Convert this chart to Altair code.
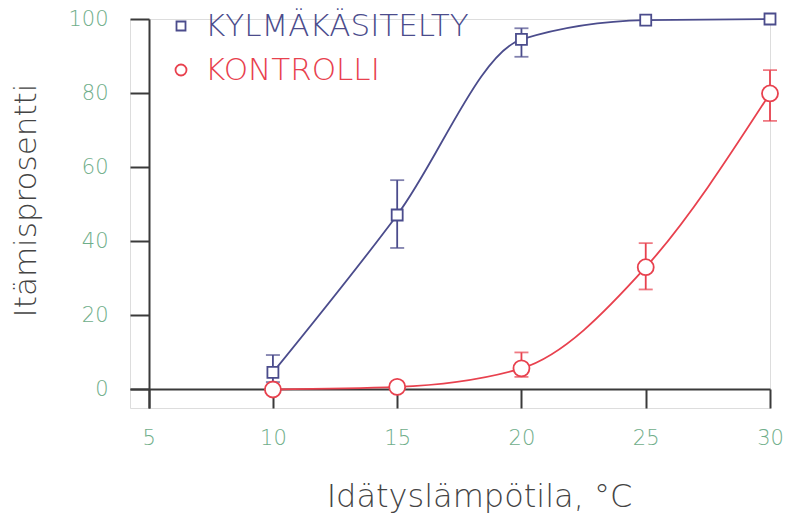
import altair as alt
import pandas as pd

temps = [10, 15, 20, 25, 30]
series_names = ["KYLMÄKÄSITELTY", "KONTROLLI"]
cold_mean = [4.6, 47.1, 94.5, 99.7, 100.0]
cold_low = [2.0, 38.2, 89.8, None, None]
cold_high = [9.3, 56.5, 97.5, None, None]
ctrl_mean = [0.0, 0.7, 5.7, 33.0, 79.9]
ctrl_low = [None, None, 3.4, 27.0, 72.5]
ctrl_high = [None, None, 10.0, 39.5, 86.2]

x_ticks = [5, 10, 15, 20, 25, 30]
y_ticks = [0, 20, 40, 60, 80, 100]

BLUE = "#4b4c8c"
RED = "#e8414e"
GREEN = "#6fae8a"
AXIS = "#3a3a3a"
FONT = "DejaVu Sans"

rows = []
for name, m, lo, hi in [(series_names[0], cold_mean, cold_low, cold_high),
                        (series_names[1], ctrl_mean, ctrl_low, ctrl_high)]:
    for t, a, b, c in zip(temps, m, lo, hi):
        rows.append({"series": name, "t": t, "v": a, "lo": b, "hi": c})
df = pd.DataFrame(rows)
err = df.dropna(subset=["lo"])

color = alt.Color("series:N", scale=alt.Scale(domain=series_names, range=[BLUE, RED]), legend=None)
shape = alt.Shape("series:N", scale=alt.Scale(domain=series_names, range=["square", "circle"]), legend=None)
size = alt.Size("series:N", scale=alt.Scale(domain=series_names, range=[121, 256]), legend=None)

xs = alt.X("t:Q", scale=alt.Scale(domain=[4.25, 30], nice=False, zero=False),
           axis=alt.Axis(values=x_ticks, offset=-19, tickSize=19, tickWidth=2, domainWidth=2,
                         domainColor=AXIS, tickColor=AXIS, grid=False, labelColor=GREEN,
                         labelFontSize=21, labelFont=FONT, labelFontWeight=200, labelPadding=19,
                         labelFlush=False, labelOverlap=False,
                         title="Idätyslämpötila,  °C", titleFont=FONT, titleFontSize=32,
                         titleFontWeight=200, titleColor="#444444",
                         titleX=349, titleY=117, titleAlign="center", titleBaseline="alphabetic"))
ys = alt.Y("v:Q", scale=alt.Scale(domain=[-5, 100], nice=False, zero=False),
           axis=alt.Axis(values=y_ticks, offset=-19, tickSize=19, tickWidth=2, domainWidth=2,
                         domainColor=AXIS, tickColor=AXIS, grid=False, labelColor=GREEN,
                         labelFontSize=21, labelFont=FONT, labelFontWeight=200, labelPadding=22,
                         labelFlush=False, labelOverlap=False,
                         title="Itämisprosentti", titleFont=FONT, titleFontSize=31,
                         titleFontWeight=200, titleColor="#444444",
                         titleX=-114, titleY=181, titleAlign="center", titleBaseline="alphabetic",
                         titleAngle=270))

base = alt.Chart(df)
lines = base.mark_line(interpolate="monotone", strokeWidth=1.8).encode(x=xs, y=ys, color=color, detail="series:N")

ebase = alt.Chart(err)
rules = ebase.mark_rule(strokeWidth=1.8).encode(x="t:Q", y="lo:Q", y2="hi:Q", color=color)
caps_hi = ebase.mark_tick(orient="horizontal", size=14, thickness=1.8).encode(x="t:Q", y="hi:Q", color=color)
caps_lo = ebase.mark_tick(orient="horizontal", size=14, thickness=1.8).encode(x="t:Q", y="lo:Q", color=color)

points = base.mark_point(filled=False, fill="white", fillOpacity=1, strokeWidth=1.8, opacity=1).encode(
    x="t:Q", y="v:Q", color=color, shape=shape, size=size)

leg = pd.DataFrame({"series": series_names, "ly": [7, 51]})
leg_sym = alt.Chart(leg).mark_point(filled=False, strokeWidth=1.8, opacity=1).encode(
    x=alt.value(51), y=alt.Y("ly:Q", scale=None), color=color, shape=shape,
    size=alt.Size("series:N", scale=alt.Scale(domain=series_names, range=[81, 121]), legend=None))
leg_txt = alt.Chart(leg).mark_text(align="left", baseline="middle", font=FONT, fontWeight=200,
                                   fontSize=31, dy=1).encode(
    x=alt.value(75), y=alt.Y("ly:Q", scale=None), text="series:N", color=color)

chart = alt.layer(lines, rules, caps_hi, caps_lo, points, leg_sym, leg_txt).properties(
    width=640, height=389,
    autosize=alt.AutoSizeParams(type="none"),
    padding={"left": 122, "top": 11, "right": 17, "bottom": 107},
).resolve_scale(size="independent").configure_view(stroke=None).configure(background="white")

chart.save("out.html", embed_options={"renderer": "svg", "actions": False})
